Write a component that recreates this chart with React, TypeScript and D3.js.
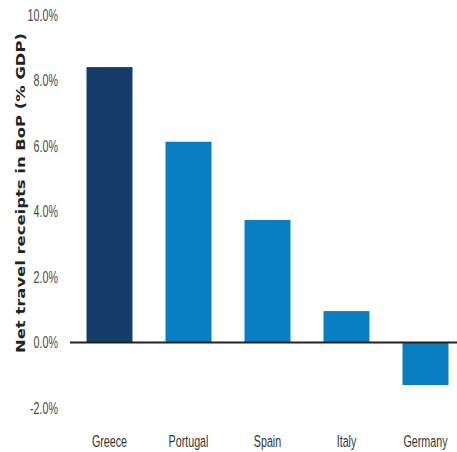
import React from "react";
import * as d3 from "d3";

const categories = ["Greece", "Portugal", "Spain", "Italy", "Germany"];
const values = [8.41, 6.13, 3.74, 0.96, -1.3];
const yTicks = [-2, 0, 2, 4, 6, 8, 10];
const barColors = ["#163c6a", "#0a7ec2", "#0a7ec2", "#0a7ec2", "#0a7ec2"];
const yTitle = "Net travel receipts in BoP (% GDP)";

export default function App() {
  const W = 457, H = 452;
  const y = d3.scaleLinear().domain([-2, 10]).range([408, 15]);
  const x = d3.scaleBand<string>().domain(categories).range([70, 465]).paddingInner(0.418).paddingOuter(0.209);
  const fmt = (v: number) => v.toFixed(1) + "%";
  const font = "'Liberation Sans', Arial, sans-serif";
  const sx = 0.65;
  return (
    <svg width={W} height={H} style={{ position: "absolute", left: 0, top: 0, background: "#fff" }}>
      {yTicks.map((t) => (
        <text key={t} transform={`translate(58, ${y(t)}) scale(${sx}, 1)`} dy="0.36em" textAnchor="end" fontFamily={font} fontSize={16.5} fill="#4a4a4a">
          {fmt(t)}
        </text>
      ))}
      {categories.map((c, i) => {
        const v = values[i];
        return (
          <rect key={c} x={x(c)} width={x.bandwidth()} y={Math.min(y(v), y(0))} height={Math.abs(y(v) - y(0))} fill={barColors[i]} />
        );
      })}
      <line x1={70} x2={W} y1={y(0)} y2={y(0)} stroke="#222" strokeWidth={2} />
      {categories.map((c) => (
        <text key={c} transform={`translate(${(x(c) as number) + x.bandwidth() / 2}, 447) scale(${sx}, 1)`} textAnchor="middle" fontFamily={font} fontSize={16.5} fill="#333">
          {c}
        </text>
      ))}
      <text
        transform={`translate(25, 193) rotate(-90)`}
        textAnchor="middle"
        fontFamily="'DejaVu Sans', sans-serif"
        fontWeight="bold"
        fontSize={13}
        fill="#222"
        textLength={320}
        lengthAdjust="spacingAndGlyphs"
      >
        {yTitle}
      </text>
    </svg>
  );
}
